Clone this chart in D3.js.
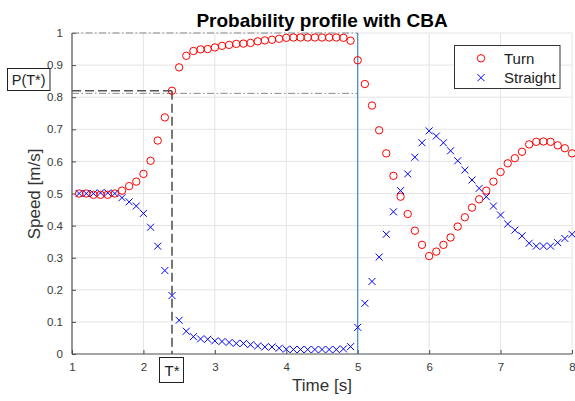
<!DOCTYPE html>
<html>
<head>
<meta charset="utf-8">
<script src="https://cdn.jsdelivr.net/npm/d3@7/dist/d3.min.js"></script>
<style>
  html, body { margin: 0; padding: 0; background: #fff; }
  svg { display: block; font-family: "Liberation Sans", Arial, Helvetica, sans-serif; }
</style>
</head>
<body>
<svg id="chart" width="575" height="401"></svg>
<script>
// Sample times [s]
const time = [
  1.1, 1.2, 1.3, 1.4, 1.5, 1.6, 1.7, 1.8, 1.9, 2.0,
  2.1, 2.2, 2.3, 2.4, 2.5, 2.6, 2.7, 2.8, 2.9, 3.0,
  3.1, 3.2, 3.3, 3.4, 3.5, 3.6, 3.7, 3.8, 3.9, 4.0,
  4.1, 4.2, 4.3, 4.4, 4.5, 4.6, 4.7, 4.8, 4.9, 5.0,
  5.1, 5.2, 5.3, 5.4, 5.5, 5.6, 5.7, 5.8, 5.9, 6.0,
  6.1, 6.2, 6.3, 6.4, 6.5, 6.6, 6.7, 6.8, 6.9, 7.0,
  7.1, 7.2, 7.3, 7.4, 7.5, 7.6, 7.7, 7.8, 7.9, 8.0
];

// Probability of a turn at each sample
const turn = [
  0.500, 0.500, 0.496, 0.496, 0.496, 0.500, 0.509, 0.523, 0.537, 0.561,
  0.602, 0.665, 0.737, 0.820, 0.893, 0.929, 0.944, 0.949, 0.950, 0.955,
  0.960, 0.963, 0.966, 0.967, 0.969, 0.974, 0.977, 0.979, 0.982, 0.985,
  0.986, 0.986, 0.986, 0.986, 0.986, 0.986, 0.986, 0.985, 0.976, 0.915,
  0.841, 0.774, 0.697, 0.625, 0.555, 0.490, 0.436, 0.384, 0.340, 0.305,
  0.319, 0.340, 0.363, 0.397, 0.426, 0.456, 0.482, 0.509, 0.537, 0.567,
  0.594, 0.610, 0.630, 0.653, 0.661, 0.662, 0.661, 0.650, 0.641, 0.625
];

// Probability of going straight at each sample
const straight = [
  0.500, 0.500, 0.500, 0.502, 0.502, 0.500, 0.487, 0.474, 0.461, 0.438,
  0.395, 0.336, 0.260, 0.182, 0.105, 0.071, 0.054, 0.047, 0.046, 0.041,
  0.039, 0.036, 0.033, 0.033, 0.029, 0.025, 0.022, 0.022, 0.018, 0.015,
  0.014, 0.014, 0.014, 0.014, 0.014, 0.014, 0.014, 0.016, 0.023, 0.083,
  0.158, 0.226, 0.302, 0.373, 0.443, 0.509, 0.561, 0.613, 0.658, 0.695,
  0.679, 0.658, 0.633, 0.602, 0.573, 0.542, 0.516, 0.490, 0.461, 0.433,
  0.405, 0.386, 0.368, 0.345, 0.336, 0.336, 0.336, 0.347, 0.360, 0.373
];

// Tick values
const xTicks = [1, 2, 3, 4, 5, 6, 7, 8];
const yTicks = [0, 0.1, 0.2, 0.3, 0.4, 0.5, 0.6, 0.7, 0.8, 0.9, 1];

// Decision instant T*, switch instant and upper reference levels
const tStar = 2.4;
const tSwitch = 5;
const levelTop = 1;
const levelLow = 0.812;

const svg = d3.select("#chart");
const plotL = 72, plotR = 572, plotT = 33, plotB = 354;

const x = d3.scaleLinear().domain([1, 8]).range([plotL, plotR]);
const y = d3.scaleLinear().domain([0, 1]).range([plotB, plotT]);

const axisColor = "#4d4d4d";
const gridColor = "#e4e4e4";

// Grid
const grid = svg.append("g");
grid.selectAll("line.gx").data(xTicks.slice(1)).join("line")
  .attr("x1", d => x(d)).attr("x2", d => x(d))
  .attr("y1", y(0)).attr("y2", y(1))
  .attr("stroke", gridColor).attr("stroke-width", 1);
grid.selectAll("line.gy").data(yTicks.slice(1)).join("line")
  .attr("x1", x(1)).attr("x2", x(8))
  .attr("y1", d => y(d)).attr("y2", d => y(d))
  .attr("stroke", gridColor).attr("stroke-width", 1);

// Axes (ticks pointing inward)
const xAxis = d3.axisBottom(x).tickValues(xTicks).tickSize(-4).tickPadding(9)
  .tickFormat(d3.format("d"));
const yAxis = d3.axisLeft(y).tickValues(yTicks).tickSize(-4).tickPadding(9)
  .tickFormat(d => d === 0 || d === 1 ? String(d) : d3.format(".1f")(d));

const gx = svg.append("g").attr("transform", `translate(0,${plotB})`).call(xAxis);
const gy = svg.append("g").attr("transform", `translate(${plotL},0)`).call(yAxis);
[gx, gy].forEach(g => {
  g.select(".domain").attr("stroke", axisColor).attr("stroke-width", 1.2);
  g.selectAll(".tick line").attr("stroke", axisColor).attr("stroke-width", 1);
  g.selectAll(".tick text").attr("fill", "#3a3a3a").attr("font-size", "11.5px")
    .attr("font-family", "'Liberation Sans', Arial, sans-serif");
});
gx.select(".domain").attr("d", `M${plotL},0H${plotR}`);
gy.select(".domain").attr("d", `M0,${plotB}V${plotT}`);

// Reference lines
const refs = svg.append("g").attr("fill", "none");
refs.append("line")
  .attr("x1", x(1)).attr("x2", x(tSwitch)).attr("y1", y(levelTop)).attr("y2", y(levelTop))
  .attr("stroke", "#8a8a8a").attr("stroke-width", 1).attr("stroke-dasharray", "7,2.5,1.5,2.5");
refs.append("line")
  .attr("x1", x(1)).attr("x2", x(tSwitch)).attr("y1", y(levelLow)).attr("y2", y(levelLow))
  .attr("stroke", "#8a8a8a").attr("stroke-width", 1).attr("stroke-dasharray", "7,2.5,1.5,2.5");

const iStar = time.indexOf(tStar);
const pStar = turn[iStar];
refs.append("line")
  .attr("x1", x(1)).attr("x2", x(tStar)).attr("y1", y(pStar)).attr("y2", y(pStar))
  .attr("stroke", "#555").attr("stroke-width", 1.6).attr("stroke-dasharray", "9,4");
refs.append("line")
  .attr("x1", x(tStar)).attr("x2", x(tStar)).attr("y1", y(pStar)).attr("y2", y(0))
  .attr("stroke", "#555").attr("stroke-width", 1.6).attr("stroke-dasharray", "9,4");
refs.append("line")
  .attr("x1", x(tSwitch)).attr("x2", x(tSwitch)).attr("y1", y(1)).attr("y2", y(0))
  .attr("stroke", "#2f7fc1").attr("stroke-width", 1.1);

// Markers
const rows = time.map((t, i) => ({ t, turn: turn[i], straight: straight[i] }));
const xMark = s => `M${-s},${-s}L${s},${s}M${-s},${s}L${s},${-s}`;

svg.append("g").selectAll("path").data(rows).join("path")
  .attr("transform", d => `translate(${x(d.t)},${y(d.straight)})`)
  .attr("d", xMark(3.5))
  .attr("stroke", "#0000ff").attr("stroke-width", 1).attr("fill", "none");

svg.append("g").selectAll("circle").data(rows).join("circle")
  .attr("cx", d => x(d.t)).attr("cy", d => y(d.turn)).attr("r", 3.7)
  .attr("stroke", "#ff0000").attr("stroke-width", 1).attr("fill", "none");

// Annotation boxes
const pBox = svg.append("g");
pBox.append("rect").attr("x", 7.5).attr("y", 68.5).attr("width", 42.5).attr("height", 22)
  .attr("fill", "#fff").attr("stroke", "#222").attr("stroke-width", 1);
pBox.append("text").attr("x", 28.7).attr("y", 84.5).attr("text-anchor", "middle")
  .attr("font-size", "14.5px").attr("fill", "#222").text("P(T*)");

const tBox = svg.append("g");
tBox.append("rect").attr("x", 159.5).attr("y", 357.5).attr("width", 24).attr("height", 25)
  .attr("fill", "#fff").attr("stroke", "#222").attr("stroke-width", 1);
tBox.append("text").attr("x", x(tStar)).attr("y", 375.5).attr("text-anchor", "middle")
  .attr("font-size", "15px").attr("fill", "#222").text("T*");

// Labels
svg.append("text").attr("x", (plotL + plotR) / 2).attr("y", 26.5).attr("text-anchor", "middle")
  .attr("font-size", "19px").attr("font-weight", "bold").attr("fill", "#000")
  .text("Probability profile with CBA");
svg.append("text").attr("x", (plotL + plotR) / 2).attr("y", 391).attr("text-anchor", "middle")
  .attr("font-size", "17px").attr("fill", "#333").text("Time [s]");
svg.append("text").attr("transform", "translate(40,194) rotate(-90)").attr("text-anchor", "middle")
  .attr("font-size", "17px").attr("fill", "#333").text("Speed [m/s]");

// Legend
const lg = svg.append("g");
lg.append("rect").attr("x", 454.5).attr("y", 45.5).attr("width", 105.5).attr("height", 43)
  .attr("fill", "#fff").attr("stroke", "#333").attr("stroke-width", 1);
lg.append("circle").attr("cx", 481).attr("cy", 58.3).attr("r", 3.7)
  .attr("stroke", "#ff0000").attr("stroke-width", 1).attr("fill", "none");
lg.append("path").attr("transform", "translate(481,77.7)").attr("d", xMark(3.5))
  .attr("stroke", "#0000ff").attr("stroke-width", 1).attr("fill", "none");
lg.append("text").attr("x", 504).attr("y", 63.5).attr("font-size", "15px").attr("fill", "#222").text("Turn");
lg.append("text").attr("x", 504).attr("y", 83).attr("font-size", "15px").attr("fill", "#222").text("Straight");
</script>
</body>
</html>
